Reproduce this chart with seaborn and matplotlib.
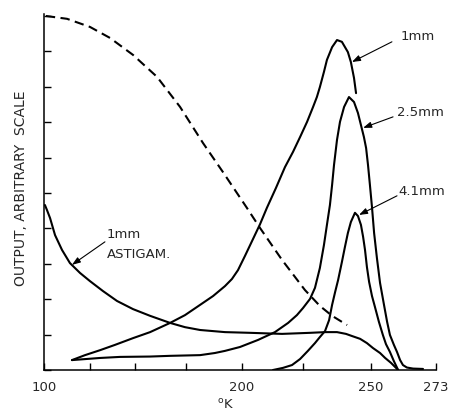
import numpy as np
import matplotlib
matplotlib.use("Agg")
import matplotlib.pyplot as plt
import seaborn as sns

# x axis of the original is not linear; knots of the scale (K) and their relative positions
K_KNOTS = [100, 125, 150, 175, 200, 225, 250, 273]
POS_KNOTS = [0, 46, 91, 142, 198, 259, 327, 392]
TICK_LABELS = ["100", "", "", "", "200", "", "250", "273"]

# theoretical curve (dashed)
theory_k = [101.0, 112.5, 125.0, 136.1, 148.9, 160.8, 172.1, 182.6, 191.5, 202.0,
            207.4, 216.4, 225.7, 231.2, 235.7, 241.2]
theory_y = [10.0, 9.92, 9.69, 9.38, 8.90, 8.28, 7.43, 6.41, 5.59, 4.58,
            4.01, 3.11, 2.26, 1.81, 1.53, 1.27]

# 1 mm astigmatic
astig_k = [100.5, 101.6, 103.3, 106.0, 109.8, 114.1, 119.6, 125.0, 132.2, 140.0,
           148.9, 157.4, 167.2, 174.5, 181.3, 192.4, 203.3, 216.4, 227.6, 233.1,
           237.5, 240.8, 243.0, 246.0, 248.5, 250.7, 253.2, 255.0, 257.1, 259.6]
astig_y = [4.66, 4.52, 4.29, 3.81, 3.39, 3.02, 2.74, 2.51, 2.23, 1.95,
           1.72, 1.53, 1.33, 1.21, 1.13, 1.07, 1.05, 1.02, 1.05, 1.07,
           1.07, 1.02, 0.96, 0.88, 0.76, 0.62, 0.48, 0.34, 0.20, 0.0]

# 1 mm
mm1_k = [115.2, 122.3, 130.6, 138.9, 148.9, 157.4, 167.2, 174.5, 181.3, 187.1,
         192.4, 195.5, 198.2, 201.2, 204.1, 207.4, 210.2, 213.9, 217.6, 220.9,
         223.8, 226.5, 228.7, 230.1, 231.2, 232.7, 233.8, 235.7, 237.5, 239.3,
         241.5, 242.6, 243.75, 244.5]
mm1_y = [0.28, 0.42, 0.56, 0.71, 0.90, 1.07, 1.33, 1.55, 1.84, 2.09,
         2.37, 2.57, 2.82, 3.22, 3.64, 4.12, 4.58, 5.14, 5.73, 6.16,
         6.58, 7.01, 7.43, 7.71, 7.99, 8.42, 8.76, 9.12, 9.32, 9.27,
         8.98, 8.70, 8.25, 7.82]

# 2.5 mm
mm25_k = [115.2, 130.6, 141.7, 157.4, 167.2, 181.3, 187.9, 192.4, 199.1, 206.6,
          213.5, 218.9, 222.5, 225.0, 227.6, 229.4, 231.2, 232.7, 233.8, 234.9,
          235.7, 236.4, 237.5, 238.6, 240.1, 241.9, 243.75, 245.2, 246.3, 247.4,
          248.2, 248.9, 249.6, 250.35, 251.1, 252.1, 253.2, 254.6, 255.7, 256.7,
          258.1, 259.2, 260.3, 261.3, 262.7, 264.9, 268.4]
mm25_y = [0.28, 0.34, 0.37, 0.38, 0.40, 0.42, 0.48, 0.54, 0.65, 0.85,
          1.07, 1.33, 1.55, 1.75, 2.01, 2.32, 2.88, 3.53, 4.10, 4.66,
          5.23, 5.79, 6.50, 7.01, 7.43, 7.71, 7.57, 7.26, 6.92, 6.58,
          6.27, 5.79, 5.23, 4.60, 3.87, 3.16, 2.46, 1.84, 1.36, 0.99,
          0.71, 0.51, 0.28, 0.14, 0.07, 0.04, 0.03]

# 4.1 mm
mm41_k = [212.7, 216.8, 220.5, 223.8, 226.8, 229.4, 231.2, 233.1, 234.6, 235.7,
          236.8, 237.9, 239.3, 240.4, 241.5, 242.6, 244.1, 245.2, 246.3, 247.1,
          247.8, 248.5, 249.3, 250.35, 251.4, 252.8, 254.2, 255.3, 256.7, 258.1,
          259.6]
mm41_y = [0.0, 0.06, 0.14, 0.31, 0.54, 0.76, 0.93, 1.10, 1.41, 1.84,
          2.20, 2.54, 3.05, 3.47, 3.87, 4.18, 4.44, 4.35, 4.10, 3.76,
          3.39, 2.91, 2.49, 2.09, 1.78, 1.36, 0.99, 0.73, 0.51, 0.25,
          0.0]


def forward(t):
    return np.interp(t, K_KNOTS, POS_KNOTS)


def inverse(p):
    return np.interp(p, POS_KNOTS, K_KNOTS)


sns.set_style("ticks")
plt.rcParams["font.family"] = ["DejaVu Sans"]

fig = plt.figure(figsize=(4.5, 4.16), dpi=100)
ax = fig.add_axes([44 / 450, 46 / 416, 392 / 450, 355.8 / 416])
ax.set_xscale("function", functions=(forward, inverse))

lw = 1.5
sns.lineplot(x=theory_k, y=theory_y, ax=ax, color="black", lw=lw,
             linestyle=(0, (4.5, 2.6)), sort=False, estimator=None)
for xs, ys in [(astig_k, astig_y), (mm1_k, mm1_y), (mm25_k, mm25_y), (mm41_k, mm41_y)]:
    sns.lineplot(x=xs, y=ys, ax=ax, color="black", lw=lw, sort=False, estimator=None,
                 solid_joinstyle="round")

ax.set_xlim(100, 273)
ax.set_ylim(0, 10.05)
ax.set_xticks(K_KNOTS)
ax.set_xticklabels(TICK_LABELS)
ax.set_yticks(range(11))
ax.set_yticklabels([])
ax.tick_params(direction="in", length=5, width=1, color="black", labelsize=9.5, pad=8)
for s in ["top", "right"]:
    ax.spines[s].set_visible(False)
for s in ["left", "bottom"]:
    ax.spines[s].set_linewidth(1.1)
    ax.spines[s].set_color("black")

# labels and arrows
fs = 9.5
arrow = dict(arrowstyle="-|>,head_length=0.5,head_width=0.18", color="black",
             lw=0.8, shrinkA=0, shrinkB=0)
ax.text(260.3, 9.43, "1mm", fontsize=fs, ha="left", va="center")
ax.annotate("", xy=(243.0, 8.70), xytext=(257.4, 9.27), arrowprops=arrow)
ax.text(259.2, 7.26, "2.5mm", fontsize=fs, ha="left", va="center")
ax.annotate("", xy=(247.1, 6.84), xytext=(257.8, 7.15), arrowprops=arrow)
ax.text(259.6, 5.03, "4.1mm", fontsize=fs, ha="left", va="center")
ax.annotate("", xy=(245.6, 4.38), xytext=(259.2, 4.92), arrowprops=arrow)
ax.text(134.4, 3.84, "1mm", fontsize=fs, ha="left", va="center")
ax.text(134.4, 3.25, "ASTIGAM.", fontsize=fs, ha="left", va="center")
ax.annotate("", xy=(115.2, 2.97), xytext=(133.3, 3.62), arrowprops=arrow)

ax.text(-0.059, 0.51, "OUTPUT, ARBITRARY  SCALE", transform=ax.transAxes,
        rotation=90, fontsize=10, ha="center", va="center")
ax.text(0.462, -0.099, r"$^{\mathsf{o}}$K", transform=ax.transAxes,
        fontsize=fs, ha="center", va="center")

fig.savefig("out.png", dpi=100)
